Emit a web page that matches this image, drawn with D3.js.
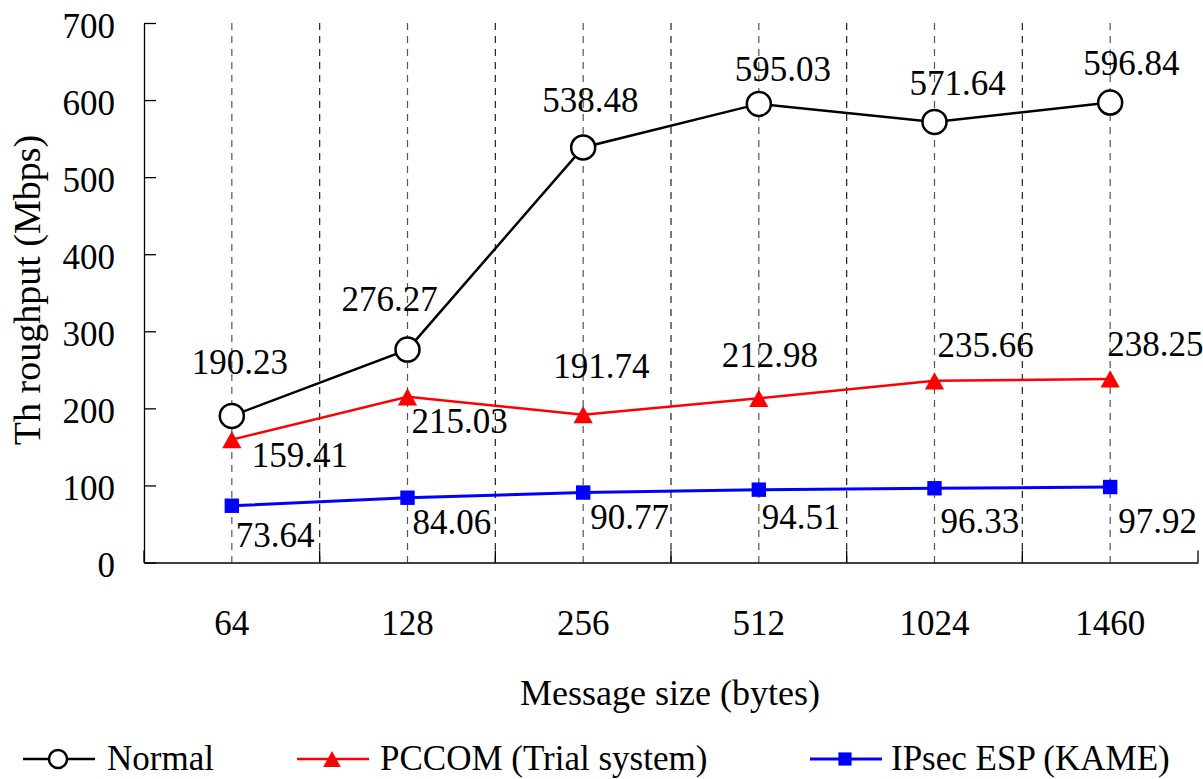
<!DOCTYPE html>
<html>
<head>
<meta charset="utf-8">
<script src="https://cdnjs.cloudflare.com/ajax/libs/d3/7.8.5/d3.min.js"></script>
<style>
    html, body { margin: 0; padding: 0; background: #fff; }
    svg text { font-family: "Liberation Serif", "Times New Roman", serif; fill: #000; }
    .axis path, .axis line { stroke: #000; stroke-width: 1.3; }
    .axis text { font-size: 35px; }
    .value-label { font-size: 35px; }
    .axis-title { font-size: 36px; }
    .legend text { font-size: 35px; }
</style>
</head>
<body>
<div id="chart-area"></div>
<script>

// Message sizes (bytes) on the x axis
var categories = ["64", "128", "256", "512", "1024", "1460"];

// Throughput (Mbps) per series
var normalValues = [190.23, 276.27, 538.48, 595.03, 571.64, 596.84];
var pccomValues  = [159.41, 215.03, 191.74, 212.98, 235.66, 238.25];
var ipsecValues  = [73.64, 84.06, 90.77, 94.51, 96.33, 97.92];

var seriesNames = ["Normal", "PCCOM (Trial system)", "IPsec ESP (KAME)"];
var yTickValues = [0, 100, 200, 300, 400, 500, 600, 700];

// where each value label sits, relative to its point (text start, baseline)
var normalLabelOffsets = [[-40, -42], [-66, -39], [-41, -35], [-24, -23], [-25, -27], [-27, -28]];
var pccomLabelOffsets  = [[20, 27], [4, 36], [-30, -37], [-37, -31], [3, -24], [-3, -23]];
var ipsecLabelOffsets  = [[4, 41], [5, 36], [7, 36], [3, 39], [6, 45], [8, 46]];


ThroughputChart = function(_parentElement){
    this.parentElement = _parentElement;

    this.series = [
        { name: seriesNames[0], values: normalValues, offsets: normalLabelOffsets, color: "#000", marker: "circle", lineWidth: 2.5 },
        { name: seriesNames[1], values: pccomValues,  offsets: pccomLabelOffsets,  color: "#ff0000", marker: "triangle", lineWidth: 2.5 },
        { name: seriesNames[2], values: ipsecValues,  offsets: ipsecLabelOffsets,  color: "#0000ff", marker: "square", lineWidth: 3 }
    ];

    this.initVis();
}


/*
 * Static content: svg, scales, axes, grid
 */
ThroughputChart.prototype.initVis = function(){
    var vis = this;

    vis.margin = { top: 23, right: 5, bottom: 216.5, left: 144 };
    vis.width = 1203 - vis.margin.left - vis.margin.right;
    vis.height = 779 - vis.margin.top - vis.margin.bottom;

    vis.root = d3.select("#" + vis.parentElement).append("svg")
        .attr("width", 1203)
        .attr("height", 779);

    vis.svg = vis.root.append("g")
        .attr("transform", "translate(" + vis.margin.left + "," + vis.margin.top + ")");

    vis.x = d3.scaleBand()
        .domain(categories)
        .range([0, vis.width]);

    vis.y = d3.scaleLinear()
        .domain([0, 700])
        .range([vis.height, 0]);

    // dashed verticals: band boundaries and band centres
    var boundaries = categories.slice(1).map(function(c){ return vis.x(c); });
    vis.svg.selectAll(".grid-bound").data(boundaries).enter()
        .append("line")
        .attr("class", "grid-bound")
        .attr("x1", function(d){ return d; })
        .attr("x2", function(d){ return d; })
        .attr("y1", 0)
        .attr("y2", vis.height)
        .attr("stroke", "#222")
        .attr("stroke-width", 1.2)
        .attr("stroke-dasharray", "7,6");

    vis.svg.selectAll(".grid-center").data(categories).enter()
        .append("line")
        .attr("class", "grid-center")
        .attr("x1", function(d){ return vis.x(d) + vis.x.bandwidth() / 2; })
        .attr("x2", function(d){ return vis.x(d) + vis.x.bandwidth() / 2; })
        .attr("y1", 0)
        .attr("y2", vis.height)
        .attr("stroke", "#555")
        .attr("stroke-width", 1.2)
        .attr("stroke-dasharray", "7,6");

    // small tick marks at the band edges on the x axis
    var edges = categories.map(function(c){ return vis.x(c); }).concat([vis.width]);
    vis.svg.selectAll(".x-edge").data(edges).enter()
        .append("line")
        .attr("class", "x-edge")
        .attr("x1", function(d){ return d; })
        .attr("x2", function(d){ return d; })
        .attr("y1", vis.height)
        .attr("y2", vis.height - 12)
        .attr("stroke", "#000")
        .attr("stroke-width", 1.3);

    vis.yAxis = d3.axisLeft(vis.y)
        .tickValues(yTickValues)
        .tickSizeInner(-12)
        .tickSizeOuter(0)
        .tickPadding(29);

    vis.xAxis = d3.axisBottom(vis.x)
        .tickSize(0)
        .tickPadding(48);

    vis.svg.append("g")
        .attr("class", "y-axis axis")
        .call(vis.yAxis)
        .selectAll("text")
        .attr("dy", "0.4em");

    vis.svg.append("g")
        .attr("class", "x-axis axis")
        .attr("transform", "translate(0," + vis.height + ")")
        .call(vis.xAxis);

    vis.svg.selectAll(".axis .domain").attr("stroke-width", 1.5);

    // axis titles
    vis.root.append("text")
        .attr("class", "axis-title")
        .attr("x", 670)
        .attr("y", 705)
        .attr("text-anchor", "middle")
        .text("Message size (bytes)");

    vis.root.append("text")
        .attr("class", "axis-title")
        .attr("transform", "translate(40,290) rotate(-90)")
        .attr("text-anchor", "middle")
        .style("font-size", "38px")
        .text("Th roughput (Mbps)");

    vis.valueLine = d3.line()
        .x(function(d, i){ return vis.x(categories[i]) + vis.x.bandwidth() / 2; })
        .y(function(d){ return vis.y(d); });

    vis.updateVis();
}


/*
 * Draw a marker of the given kind into a selection
 */
ThroughputChart.prototype.drawMarker = function(sel, kind, color, cx, cy, size){
    if (kind === "circle"){
        sel.append("circle")
            .attr("cx", cx).attr("cy", cy)
            .attr("r", size)
            .attr("fill", "#fff")
            .attr("stroke", color)
            .attr("stroke-width", 2.5);
    }
    else if (kind === "triangle"){
        var h = size * 0.72, w = size * 0.8;
        sel.append("path")
            .attr("d", "M" + cx + "," + (cy - h) + "L" + (cx + w) + "," + (cy + h) + "L" + (cx - w) + "," + (cy + h) + "Z")
            .attr("fill", color);
    }
    else {
        var s = size * 0.6;
        sel.append("rect")
            .attr("x", cx - s).attr("y", cy - s)
            .attr("width", 2 * s).attr("height", 2 * s)
            .attr("fill", color);
    }
}


/*
 * Lines, markers, value labels and legend
 */
ThroughputChart.prototype.updateVis = function(){
    var vis = this;

    vis.series.forEach(function(s){
        var g = vis.svg.append("g").attr("class", "series");

        g.append("path")
            .datum(s.values)
            .attr("fill", "none")
            .attr("stroke", s.color)
            .attr("stroke-width", s.lineWidth)
            .attr("d", vis.valueLine);

        s.values.forEach(function(v, i){
            var cx = vis.x(categories[i]) + vis.x.bandwidth() / 2;
            var cy = vis.y(v);
            vis.drawMarker(g, s.marker, s.color, cx, cy, 12);
        });

        g.selectAll(".value-label").data(s.values).enter()
            .append("text")
            .attr("class", "value-label")
            .attr("x", function(d, i){ return vis.x(categories[i]) + vis.x.bandwidth() / 2 + s.offsets[i][0]; })
            .attr("y", function(d, i){ return vis.y(d) + s.offsets[i][1]; })
            .text(function(d){ return d.toFixed(2); });
    });

    // legend along the bottom
    var legendX = [23, 297, 810];
    var legendY = 759;
    var legend = vis.root.append("g").attr("class", "legend");

    vis.series.forEach(function(s, i){
        var x0 = legendX[i];
        legend.append("line")
            .attr("x1", x0).attr("x2", x0 + 72)
            .attr("y1", legendY).attr("y2", legendY)
            .attr("stroke", s.color)
            .attr("stroke-width", s.lineWidth);
        vis.drawMarker(legend, s.marker, s.color, x0 + 35, legendY, s.marker === "circle" ? 9 : 11);
        legend.append("text")
            .attr("x", x0 + (i === 0 ? 84 : (i === 1 ? 83 : 81)))
            .attr("y", 770)
            .text(s.name);
    });
}

var chart = new ThroughputChart("chart-area");

</script>
</body>
</html>
